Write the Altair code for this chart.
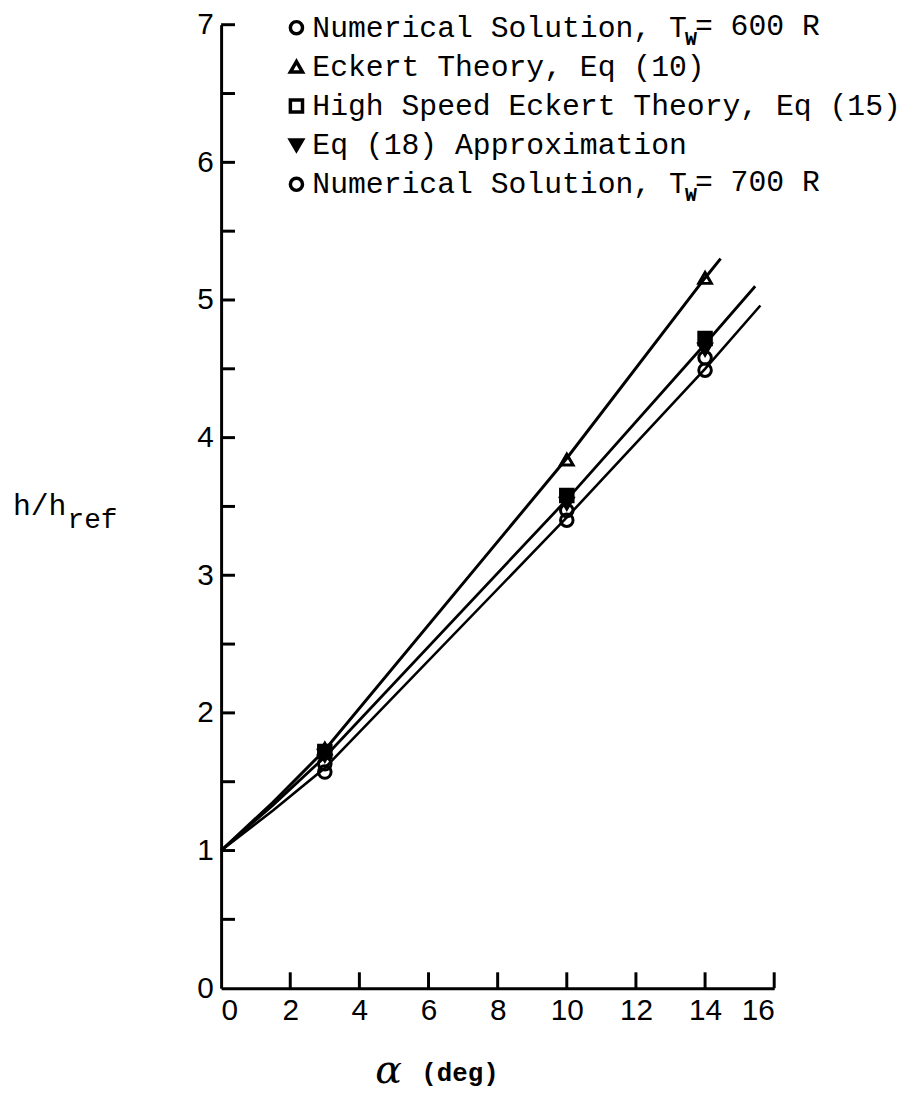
import altair as alt
import pandas as pd

# ---------------- data ----------------
alpha_pts = [3, 10, 14]
num600 = [1.57, 3.40, 4.49]
eckert = [1.74, 3.84, 5.16]
hs_eckert = [1.72, 3.58, 4.72]
eq18 = [1.69, 3.52, 4.64]
num700 = [1.63, 3.47, 4.58]

series_keys = ["num600", "eckert", "hs", "eq18", "num700"]
series_vals = [num600, eckert, hs_eckert, eq18, num700]
series_shapes = ["circle", "triangle-up", "square", "triangle-down", "circle"]
series_fill = ["transparent", "transparent", "black", "black", "transparent"]

curve_top_x = [0, 1.5, 3, 10, 14, 14.45]
curve_top_y = [1.0, 1.35, 1.73, 3.85, 5.16, 5.30]
curve_mid_x = [0, 1.5, 3, 10, 14, 15.45]
curve_mid_y = [1.0, 1.33, 1.68, 3.55, 4.68, 5.10]
curve_bot_x = [0, 1.5, 3, 10, 14, 15.6]
curve_bot_y = [1.0, 1.29, 1.60, 3.42, 4.50, 4.96]

legend_labels = [
    "Numerical Solution, T",
    "Eckert Theory, Eq (10)",
    "High Speed Eckert Theory, Eq (15)",
    "Eq (18) Approximation",
    "Numerical Solution, T",
]
legend_shapes = ["circle", "triangle-up", "square", "triangle-down", "circle"]
legend_fill = ["white", "white", "white", "black", "white"]
suffix_rows = [0, 4]
suffix_text = ["= 600 R", "= 700 R"]

x_ticks_major = [0, 2, 4, 6, 8, 10, 12, 14, 16]
y_ticks_major = [0, 1, 2, 3, 4, 5, 6, 7]
y_ticks_minor = [0.5, 1, 1.5, 2, 2.5, 3, 3.5, 4, 4.5, 5, 5.5, 6, 6.5, 7]
x_ticks_inner = [2, 4, 6, 8, 10, 12, 14, 16]

W, H = 558, 972
FONT_MONO = "Liberation Mono"

# ---------------- frames ----------------
rows = []
for k, vals in zip(series_keys, series_vals):
    for a, v in zip(alpha_pts, vals):
        rows.append({"series": k, "alpha": a, "h": v})
pts = pd.DataFrame(rows)

crv = []
for name, xs_, ys_ in [("top", curve_top_x, curve_top_y),
                       ("mid", curve_mid_x, curve_mid_y),
                       ("bot", curve_bot_x, curve_bot_y)]:
    for a, v in zip(xs_, ys_):
        crv.append({"curve": name, "alpha": a, "h": v})
crv = pd.DataFrame(crv)

xs = alt.Scale(domain=[0, 16], nice=False, zero=False)
ys = alt.Scale(domain=[0, 7], nice=False, zero=False)
x_axis = alt.Axis(values=x_ticks_major, tickSize=0, labelFontSize=30,
                  labelFont="Liberation Sans", labelPadding=8,
                  domainWidth=3, domainColor="black", labelColor="black",
                  grid=False, title=None)
y_axis = alt.Axis(values=y_ticks_major, tickSize=0, labelFontSize=30,
                  labelFont="Liberation Sans", labelPadding=8,
                  domainWidth=3, domainColor="black", labelColor="black",
                  grid=False, title=None)

lines = alt.Chart(crv).mark_line(color="black").encode(
    x=alt.X("alpha:Q", scale=xs, axis=x_axis),
    y=alt.Y("h:Q", scale=ys, axis=y_axis),
    detail="curve:N",
    strokeWidth=alt.StrokeWidth("curve:N",
                                scale=alt.Scale(domain=["top", "mid", "bot"], range=[3, 2.6, 2]),
                                legend=None),
)

points = alt.Chart(pts).mark_point(size=160, strokeWidth=3, opacity=1, stroke="black").encode(
    x=alt.X("alpha:Q", scale=xs, axis=x_axis),
    y=alt.Y("h:Q", scale=ys, axis=y_axis),
    shape=alt.Shape("series:N", scale=alt.Scale(domain=series_keys, range=series_shapes), legend=None),
    fill=alt.Fill("series:N", scale=alt.Scale(domain=series_keys, range=series_fill), legend=None),
)

ytick_df = pd.DataFrame({"v": y_ticks_minor})
yticks = alt.Chart(ytick_df).mark_rule(color="black", strokeWidth=3).encode(
    y=alt.Y("v:Q", scale=ys, axis=y_axis),
    x=alt.value(0), x2=alt.value(14),
)
xtick_df = pd.DataFrame({"v": x_ticks_inner})
xticks = alt.Chart(xtick_df).mark_rule(color="black", strokeWidth=3).encode(
    x=alt.X("v:Q", scale=xs, axis=x_axis),
    y=alt.value(H), y2=alt.value(H - 16),
)

main = alt.layer(lines, yticks, xticks, points)

ROW = "3 + 39.5*datum.row"
leg_df = pd.DataFrame({"label": legend_labels, "row": list(range(5)),
                       "shape": legend_shapes, "fill": legend_fill})
leg_text = alt.Chart(leg_df).transform_calculate(py=ROW).mark_text(
    align="left", baseline="middle", font=FONT_MONO, fontSize=30, color="black"
).encode(x=alt.value(92), y=alt.Y("py:Q", scale=None, axis=None), text="label:N")

leg_marks = alt.Chart(leg_df).transform_calculate(py=ROW).mark_point(
    filled=True, size=150, strokeWidth=3.5, stroke="black", opacity=1
).encode(x=alt.value(76), y=alt.Y("py:Q", scale=None, axis=None),
         shape=alt.Shape("shape:N", scale=None),
         fill=alt.Fill("fill:N", scale=None))

suf_df = pd.DataFrame({"row": suffix_rows, "text": suffix_text})
leg_sub = alt.Chart(suf_df).transform_calculate(py=ROW + " + 11").mark_text(
    align="left", baseline="middle", font=FONT_MONO, fontSize=20, fontWeight="bold", color="black"
).encode(x=alt.value(468), y=alt.Y("py:Q", scale=None, axis=None), text=alt.value("W"))
leg_suf = alt.Chart(suf_df).transform_calculate(py=ROW + " - 2").mark_text(
    align="left", baseline="middle", font=FONT_MONO, fontSize=30, color="black"
).encode(x=alt.value(478), y=alt.Y("py:Q", scale=None, axis=None), text="text:N")

title_df = pd.DataFrame({"t": ["x"]})
alpha_t = alt.Chart(title_df).mark_text(
    align="center", baseline="middle", font="DejaVu Serif", fontSize=40,
    fontStyle="italic", color="black"
).encode(x=alt.value(169), y=alt.value(H + 84), text=alt.value("α"))
deg_t = alt.Chart(title_df).mark_text(
    align="left", baseline="middle", font=FONT_MONO, fontSize=26, fontWeight="bold", color="black"
).encode(x=alt.value(202), y=alt.value(H + 86), text=alt.value("(deg)"))
hh_t = alt.Chart(title_df).mark_text(
    align="left", baseline="alphabetic", font=FONT_MONO, fontSize=30, color="black"
).encode(x=alt.value(-210), y=alt.value(495), text=alt.value("h/h"))
ref_t = alt.Chart(title_df).mark_text(
    align="left", baseline="alphabetic", font=FONT_MONO, fontSize=28, color="black"
).encode(x=alt.value(-155), y=alt.value(508), text=alt.value("ref"))

overlay = alt.layer(leg_marks, leg_text, leg_sub, leg_suf, alpha_t, deg_t, hh_t, ref_t)

chart = alt.layer(main, overlay).resolve_scale(
    x="independent", y="independent"
).resolve_axis(x="independent", y="independent").properties(
    width=W, height=H,
    background="white",
    autosize=alt.AutoSizeParams(type="none"),
    padding={"left": 215, "top": 12, "right": 137, "bottom": 111},
).configure_view(stroke=None)

chart.save("out.html", embed_options={"renderer": "svg", "actions": False})
